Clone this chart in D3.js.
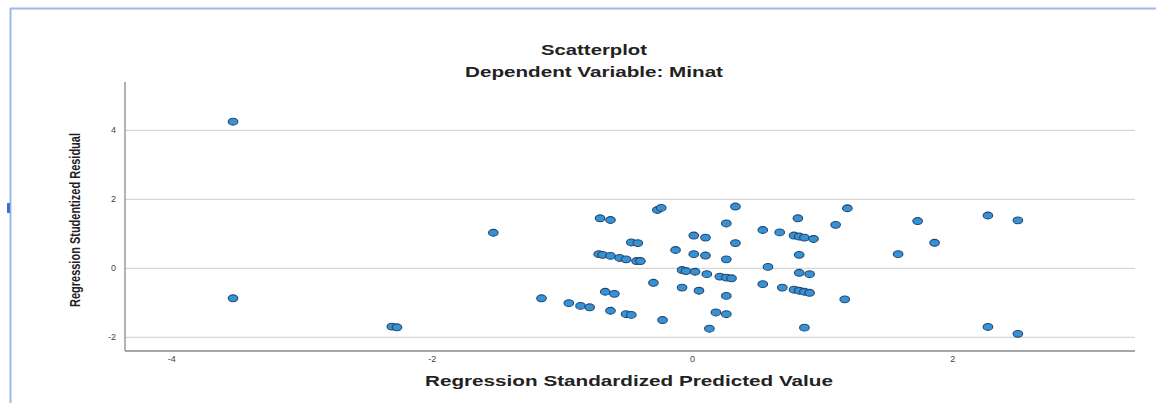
<!DOCTYPE html>
<html>
<head>
<meta charset="utf-8">
<script src="https://cdn.jsdelivr.net/npm/d3@7"></script>
<style>
  body { margin: 0; background: #fff; }
  svg { display: block; }
  .tick-label { font-family: "Liberation Sans", Arial, sans-serif; font-size: 9px; fill: #444; }
  .title { font-family: "Liberation Sans", Arial, sans-serif; font-weight: bold; font-size: 14px; fill: #222; }
  .axis-title { font-family: "Liberation Sans Narrow", "Liberation Sans", Arial, sans-serif; font-weight: bold; fill: #222; }
</style>
</head>
<body>
<svg id="chart" width="1156" height="403"></svg>
<script>
// values
const predicted = [
  -3.53, -3.53, -2.31, -2.27, -1.53,
  -0.71, -0.63, -0.27, -0.24, 0.33, 0.26, -0.47, -0.42, 0.01, 0.10, 0.33, -0.13, 0.01, 0.10, 0.26,
  -0.72, -0.69, -0.63, -0.56, -0.51, -0.43, -0.40, -0.08, -0.05, 0.02, 0.11, 0.21, 0.26, 0.30,
  -0.30, -0.08, 0.05, 0.26, -0.67, -0.60, -1.16, -0.95, -0.86, -0.79, -0.63, -0.51, -0.47, -0.23,
  0.18, 0.26, 0.13,
  0.81, 1.19, 1.10, 1.73, 0.54, 0.67, 0.78, 0.82, 0.86, 0.93, 1.86, 0.82, 1.58, 0.58, 0.82, 0.90,
  0.54, 0.69, 0.78, 0.82, 0.86, 0.90, 1.17, 0.86,
  2.27, 2.50, 2.27, 2.50
];
const residual = [
  4.25, -0.87, -1.69, -1.71, 1.03,
  1.45, 1.40, 1.69, 1.75, 1.79, 1.30, 0.75, 0.73, 0.95, 0.89, 0.73, 0.53, 0.41, 0.37, 0.26,
  0.41, 0.39, 0.36, 0.30, 0.26, 0.21, 0.21, -0.05, -0.08, -0.10, -0.17, -0.24, -0.27, -0.29,
  -0.42, -0.56, -0.65, -0.80, -0.68, -0.74, -0.87, -1.01, -1.09, -1.13, -1.23, -1.33, -1.35, -1.50,
  -1.28, -1.33, -1.75,
  1.45, 1.74, 1.26, 1.37, 1.11, 1.04, 0.95, 0.92, 0.89, 0.85, 0.74, 0.39, 0.41, 0.04, -0.13, -0.17,
  -0.46, -0.56, -0.62, -0.65, -0.68, -0.71, -0.90, -1.72,
  1.53, 1.39, -1.70, -1.90
];
const xTicks = [-4, -2, 0, 2];
const yTicks = [-2, 0, 2, 4];

const titleLines = ["Scatterplot", "Dependent Variable: Minat"];
const xTitle = "Regression Standardized Predicted Value";
const yTitle = "Regression Studentized Residual";

const points = predicted.map((d, i) => ({ x: d, y: residual[i] }));

const svg = d3.select('#chart');

// plot box
const plotLeft = 125, plotRight = 1135, plotTop = 82, plotBottom = 351;

const x = d3.scaleLinear().domain([-4.36, 3.40]).range([plotLeft, plotRight]);
const y = d3.scaleLinear().domain([-2.397, 5.40]).range([plotBottom, plotTop]);

// viewer frame
svg.append('line').attr('x1', 10).attr('x2', 1156).attr('y1', 8.5).attr('y2', 8.5)
  .attr('stroke', '#9db8e6').attr('stroke-width', 2);
svg.append('line').attr('x1', 10.5).attr('x2', 10.5).attr('y1', 8).attr('y2', 403)
  .attr('stroke', '#9db8e6').attr('stroke-width', 2);
svg.append('rect').attr('x', 7).attr('y', 203).attr('width', 3).attr('height', 10).attr('fill', '#3a6fd8');

// gridlines
svg.append('g')
  .selectAll('line')
  .data(yTicks)
  .enter().append('line')
  .attr('x1', plotLeft).attr('x2', plotRight)
  .attr('y1', d => y(d)).attr('y2', d => y(d))
  .attr('stroke', '#d6d6d6')
  .attr('stroke-width', 1.2);

// axes lines
svg.append('line').attr('x1', plotLeft).attr('x2', plotLeft).attr('y1', plotTop).attr('y2', plotBottom)
  .attr('stroke', '#8a8a8a').attr('stroke-width', 1.3);
svg.append('line').attr('x1', plotLeft).attr('x2', plotRight).attr('y1', plotBottom).attr('y2', plotBottom)
  .attr('stroke', '#8a8a8a').attr('stroke-width', 1.3);

// tick labels
svg.append('g')
  .selectAll('text')
  .data(yTicks)
  .enter().append('text')
  .attr('class', 'tick-label')
  .attr('x', plotLeft - 9)
  .attr('y', d => y(d) + 3)
  .attr('text-anchor', 'end')
  .text(d => d < 0 ? '-' + Math.abs(d) : d);

svg.append('g')
  .selectAll('text')
  .data(xTicks)
  .enter().append('text')
  .attr('class', 'tick-label')
  .attr('x', d => x(d))
  .attr('y', plotBottom + 11)
  .attr('text-anchor', 'middle')
  .text(d => d < 0 ? '-' + Math.abs(d) : d);

// titles
svg.append('text').attr('class', 'title')
  .attr('x', 594).attr('y', 55)
  .attr('text-anchor', 'middle')
  .attr('textLength', 106).attr('lengthAdjust', 'spacingAndGlyphs')
  .text(titleLines[0]);
svg.append('text').attr('class', 'title')
  .attr('x', 594).attr('y', 77)
  .attr('text-anchor', 'middle')
  .attr('textLength', 258).attr('lengthAdjust', 'spacingAndGlyphs')
  .text(titleLines[1]);

svg.append('text').attr('class', 'axis-title')
  .attr('x', 629).attr('y', 386)
  .attr('text-anchor', 'middle')
  .style('font-size', '15px')
  .attr('textLength', 408).attr('lengthAdjust', 'spacingAndGlyphs')
  .text(xTitle);

svg.append('text').attr('class', 'axis-title')
  .attr('transform', 'translate(80,220) rotate(-90)')
  .attr('text-anchor', 'middle')
  .style('font-size', '14px')
  .attr('textLength', 174).attr('lengthAdjust', 'spacingAndGlyphs')
  .text(yTitle);

// markers
svg.append('g')
  .selectAll('ellipse')
  .data(points)
  .enter().append('ellipse')
  .attr('cx', d => x(d.x))
  .attr('cy', d => y(d.y))
  .attr('rx', 4.8)
  .attr('ry', 3.4)
  .attr('fill', '#3592d6')
  .attr('stroke', '#24466e')
  .attr('stroke-width', 1.1);
</script>
</body>
</html>
